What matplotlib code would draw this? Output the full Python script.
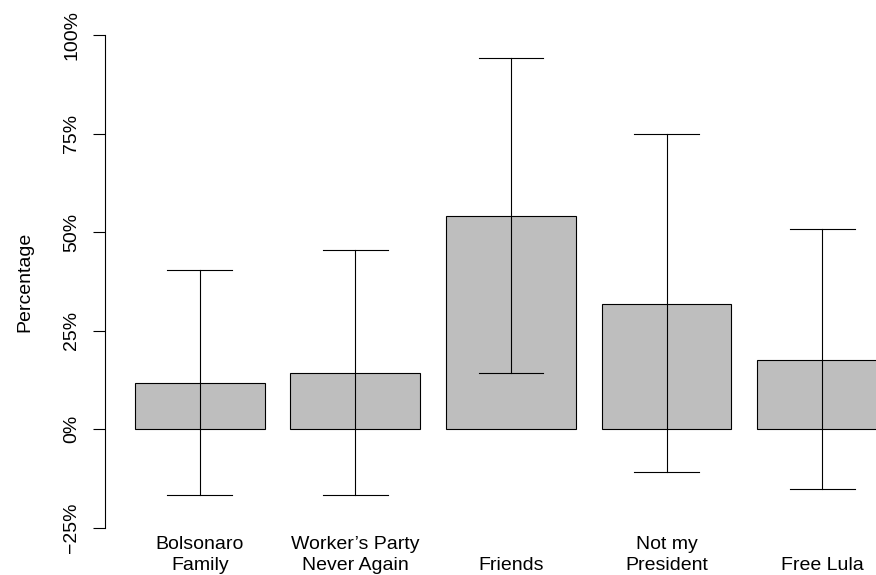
import matplotlib
matplotlib.use("Agg")
import matplotlib.pyplot as plt
import matplotlib.transforms as mtransforms
import numpy as np

categories = ["Bolsonaro\nFamily", "Worker\u2019s Party\nNever Again", "Friends",
              "Not my\nPresident", "Free Lula"]
share = [0.1185, 0.144, 0.542, 0.319, 0.177]
err_low = [-0.167, -0.166, 0.142, -0.109, -0.152]
err_high = [0.405, 0.456, 0.942, 0.748, 0.507]
tick_vals = [-0.25, 0.0, 0.25, 0.5, 0.75, 1.0]
tick_labels = ["\u221225%", "0%", "25%", "50%", "75%", "100%"]

plt.rcParams['font.family'] = ['Liberation Sans', 'DejaVu Sans']

W, H = 876, 575
fig = plt.figure(figsize=(W / 100, H / 100), dpi=100)
left_px, right_px = 104.75, 917.2
top_px, bot_px = 15.3, 547.6
ax = fig.add_axes([left_px / W, 1 - bot_px / H, (right_px - left_px) / W, (bot_px - top_px) / H])

n = len(categories)
centers = 0.7 + 1.2 * np.arange(n)
ax.bar(centers, share, width=1.0, color="#BEBEBE", edgecolor="black", linewidth=0.8, zorder=2)
for c, lo, hi in zip(centers, err_low, err_high):
    ax.plot([c, c], [lo, hi], color="black", lw=0.8, zorder=3)
    ax.plot([c - 0.25, c + 0.25], [lo, lo], color="black", lw=0.8, zorder=3)
    ax.plot([c - 0.25, c + 0.25], [hi, hi], color="black", lw=0.8, zorder=3)

ax.set_xlim(-0.032, 6.232)
ax.set_ylim(-0.3, 1.05)
for s in ["top", "right", "bottom"]:
    ax.spines[s].set_visible(False)
ax.spines["left"].set_bounds(-0.25, 1.0)
ax.spines["left"].set_linewidth(0.8)
ax.set_xticks([])
ax.set_yticks(tick_vals)
ax.set_yticklabels(tick_labels, rotation=90, va="center", ha="right", fontsize=14)
ax.tick_params(axis="y", length=8.6, width=0.8, pad=9.2)

trans = mtransforms.blended_transform_factory(ax.transData, fig.transFigure)
for c, lab in zip(centers, categories):
    ax.text(c, 0.0025, lab, transform=trans, ha="center", va="bottom",
            fontsize=14, linespacing=1.3, clip_on=False)

fig.text(33 / W, 1 - 281.5 / H, "Percentage", rotation=90, ha="right", va="center", fontsize=14)

fig.savefig("out.png", dpi=100)
